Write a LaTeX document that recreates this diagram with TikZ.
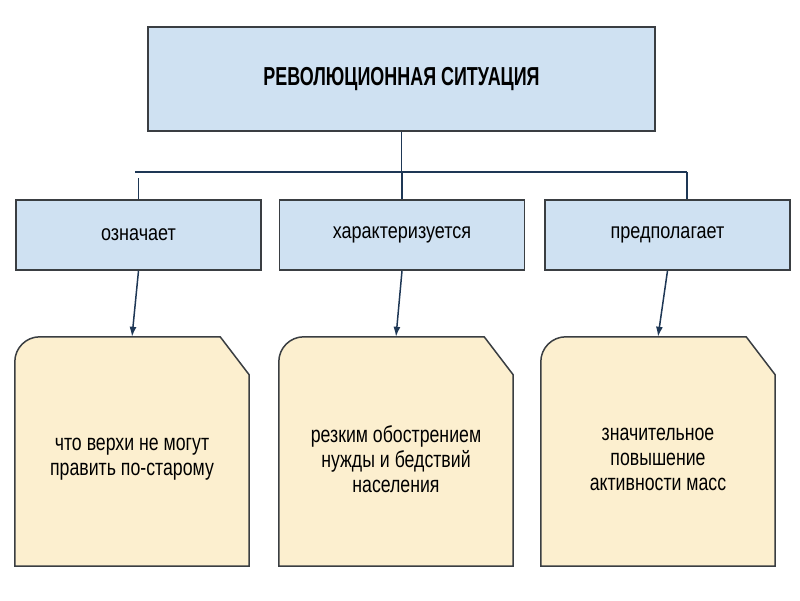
\documentclass[tikz,border=0pt]{standalone}
\usepackage{fontspec}
\setmainfont{Liberation Sans}
\usepackage{graphicx}
\usetikzlibrary{arrows.meta}

\definecolor{boxblue}{RGB}{207,225,242}
\definecolor{notecream}{RGB}{252,239,207}
\definecolor{edgegray}{RGB}{58,62,66}
\definecolor{linknavy}{RGB}{30,55,85}
\newcommand{\nrw}[2][0.77]{\scalebox{#1}[1]{#2}}

\begin{document}
\begin{tikzpicture}[x=1pt,y=-1pt,
	topbox/.style={draw=edgegray, line width=1.7pt, fill=boxblue, minimum width=507pt, minimum height=104pt, font=\fontsize{26}{30}\selectfont\bfseries},
	midbox/.style={draw=edgegray, line width=1.5pt, fill=boxblue, minimum width=245pt, minimum height=70pt, font=\fontsize{22}{25}\selectfont},
	notecard/.style={minimum width=234pt, minimum height=229pt},
	notetext/.style={align=center, font=\fontsize{23}{25}\selectfont},
	link/.style={draw=linknavy, line width=1.5pt},
	arr/.style={link, -{Latex[length=10pt,width=7pt]}}]
			\useasboundingbox (0,0) rectangle (800,600);
			
			\node[topbox] (top) at (401.5,79) {\nrw[0.69]{РЕВОЛЮЦИОННАЯ СИТУАЦИЯ}};
			
			\foreach \i/\cx/\word in {1/138.5/означает, 2/402/характеризуется, 3/667.5/предполагает}
			\node[midbox] (mid\i) at (\cx,235) {\nrw[0.82]{\word}};
			
			% cut-off cards
			\foreach \i/\cx in {1/132, 2/396, 3/658} {
				\node[notecard] (note\i) at (\cx,451.5) {};
				\draw[draw=edgegray, line width=1.5pt, fill=notecream] (note\i.south west) [rounded corners=25pt] -- (note\i.north west) [sharp corners] -- ([xshift=-29pt]note\i.north east) -- ([yshift=-38pt]note\i.north east) -- (note\i.south east) -- cycle;
			}
			\node[notetext] (text1) at (132,459) {\nrw{что верхи не могут}\\\nrw{править по-старому}};
			\node[notetext] (text2) at (396,459) {\nrw{резким обострением}\\\nrw{нужды и бедствий}\\\nrw{населения}};
			\node[notetext] (text3) at (658,459) {\nrw{значительное}\\\nrw{повышение}\\\nrw{активности масс}};
			
			\coordinate (busL) at (135,172);
			\coordinate (busR) at (687,172);
			\draw[link] (top.south) -- (top.south |- busL);
			\draw[link] (busL) -- (busR);
			\draw[link] (mid1.north) -- ++(0,-21);
			\draw[link] (mid2.north) -- (mid2.north |- busL);
			\draw[link] (busR) -- (busR |- mid3.north);
			
			\foreach \i in {1,2,3}
			\draw[arr] (mid\i.south) -- (note\i.north);
		\end{tikzpicture}
\end{document}
